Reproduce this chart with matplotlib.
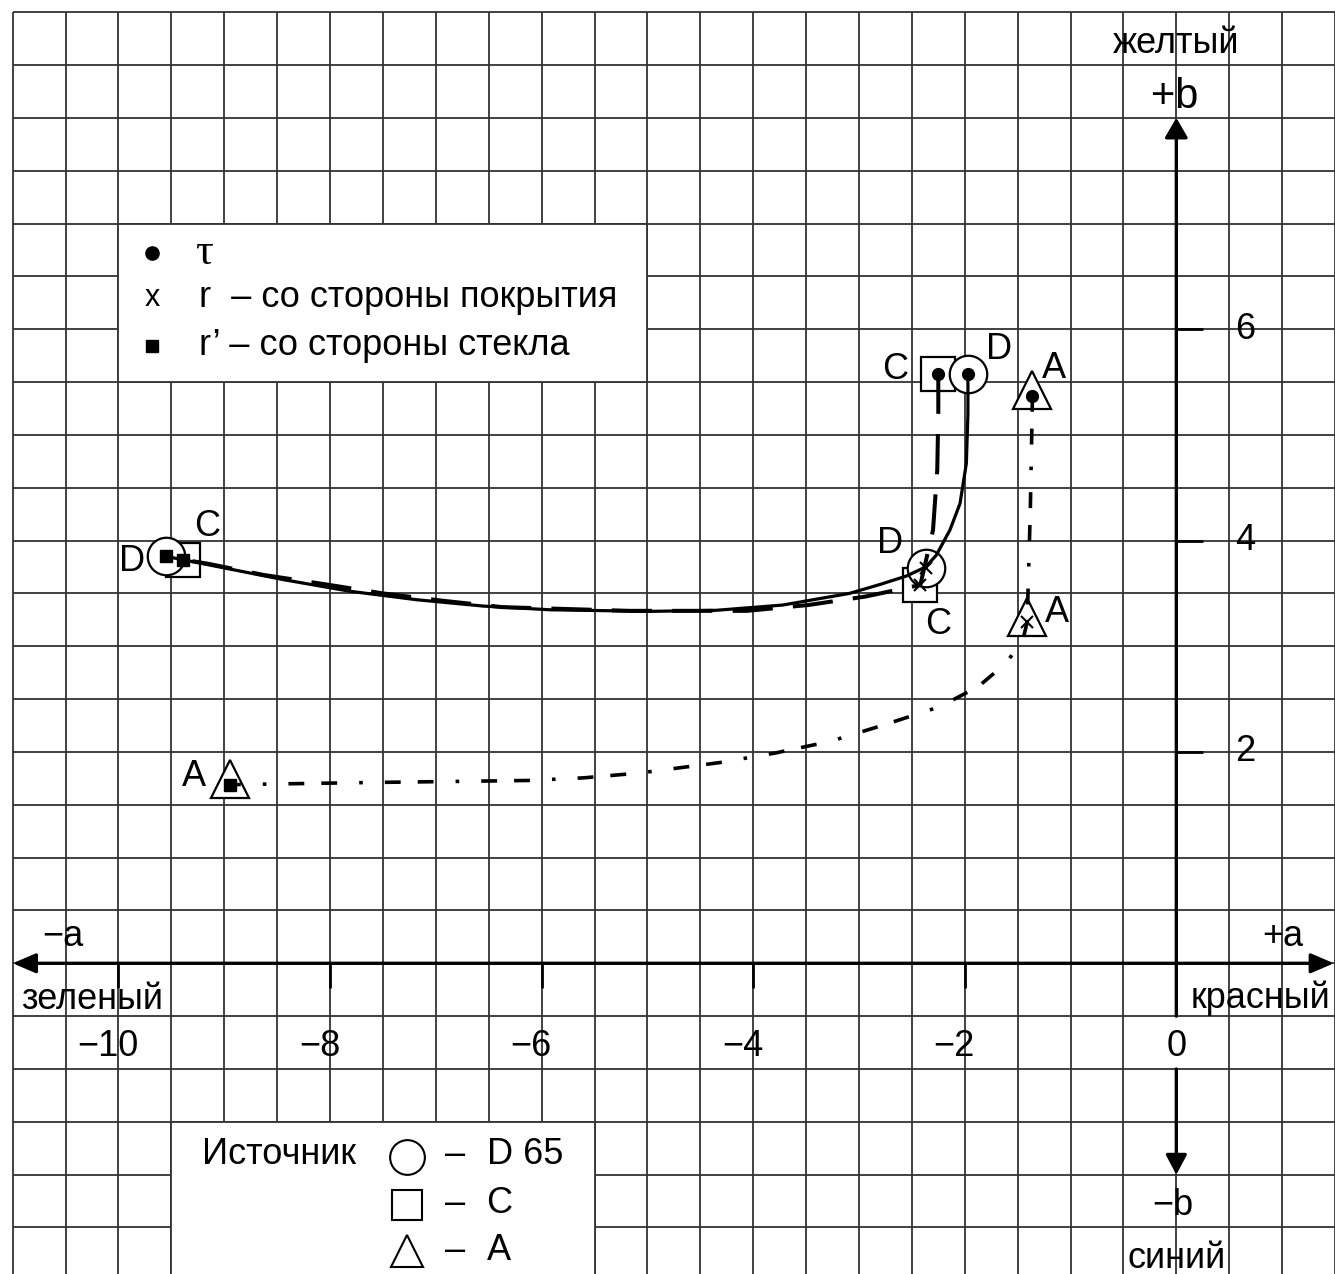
import numpy as np
import matplotlib
matplotlib.use("Agg")
from matplotlib import pyplot as plt
from matplotlib.patches import Rectangle

plt.rcParams['font.family'] = ['Liberation Sans', 'DejaVu Sans']

# points: D65, C, A sources
src = ['D', 'C', 'A']
tau_a = [-1.97, -2.25, -1.36]
tau_b = [5.58, 5.58, 5.37]
r_a = [-2.37, -2.42, -1.41]
r_b = [3.74, 3.58, 3.23]
rp_a = [-9.55, -9.39, -8.95]
rp_b = [3.85, 3.82, 1.69]

# letter labels next to the points (centre of the letter)
lab_tau_a = [-1.68, -2.66, -1.16]
lab_tau_b = [5.84, 5.65, 5.66]
lab_r_a = [-2.71, -2.25, -1.13]
lab_r_b = [4.00, 3.24, 3.35]
lab_rp_a = [-9.87, -9.16, -9.29]
lab_rp_b = [3.83, 4.16, 1.80]

# curves
d_curve_a = [-1.97, -1.97, -1.985, -2.045, -2.14, -2.27, -2.37, -2.55, -2.80, -3.09, -3.72,
             -4.35, -4.98, -5.92, -6.55, -7.18, -7.81, -8.44, -9.07, -9.55]
d_curve_b = [5.58, 5.20, 4.73, 4.35, 4.10, 3.86, 3.75, 3.665, 3.585, 3.50, 3.39,
             3.34, 3.33, 3.345, 3.38, 3.44, 3.52, 3.63, 3.755, 3.85]
c_curve_a = [-2.25, -2.25, -2.26, -2.30, -2.42, -2.94, -3.48, -4.06, -5.17, -6.37,
             -6.93, -7.50, -8.07, -8.63, -9.15, -9.39]
c_curve_b = [5.58, 5.20, 4.67, 4.10, 3.58, 3.47, 3.39, 3.335, 3.335, 3.37,
             3.43, 3.50, 3.59, 3.675, 3.78, 3.82]
a_curve_a = [-1.36, -1.38, -1.41, -1.45, -1.61, -1.87, -2.23, -2.75, -3.27, -3.79,
             -4.31, -5.08, -5.60, -6.12, -7.67, -8.95]
a_curve_b = [5.37, 4.30, 3.23, 3.06, 2.84, 2.62, 2.43, 2.26, 2.10, 1.99,
             1.90, 1.80, 1.755, 1.73, 1.71, 1.69]

x_ticks = [-10, -8, -6, -4, -2, 0]
x_labels = ['\u221210', '\u22128', '\u22126', '\u22124', '\u22122', '0']
y_ticks = [2, 4, 6]
y_labels = ['2', '4', '6']

GRID = '#333333'
FS = 26

fig = plt.figure(figsize=(13.35, 12.74), dpi=100)
ax = fig.add_axes([0, 0, 1, 1])
ax.set_xlim(-11.12, 1.50)
ax.set_ylim(-2.94, 9.115)
ax.axis('off')

# grid paper
gx = np.arange(-11, 1.51, 0.5)
gy = np.arange(-3, 9.01, 0.5)
ax.vlines(gx[gx != 0], -3.5, 9, color=GRID, lw=1.3, zorder=1)
ax.vlines([0, 0], [-3.5, -0.5], [-1.0, 9], color=GRID, lw=1.3, zorder=1)
ax.hlines(gy, -11, 2, color=GRID, lw=1.3, zorder=1)

# white legend boxes
ax.add_patch(Rectangle((-10, 5.5), 5.0, 1.5, fc='white', ec=GRID, lw=1.3, zorder=2))
ax.add_patch(Rectangle((-9.5, -3.5), 4.0, 2.0, fc='white', ec=GRID, lw=1.3, zorder=2))

# axes with arrows
ax.annotate('', xy=(-11.0, 0), xytext=(1.49, 0),
            arrowprops=dict(arrowstyle='<|-|>,head_length=0.7,head_width=0.3',
                            mutation_scale=20, lw=2.4, color='k',
                            shrinkA=0, shrinkB=0), zorder=4)
ax.annotate('', xy=(0, 8.0), xytext=(0, -0.5),
            arrowprops=dict(arrowstyle='-|>,head_length=0.6,head_width=0.35',
                            mutation_scale=20, lw=2.4, color='k',
                            shrinkA=0, shrinkB=0), zorder=4)
ax.annotate('', xy=(0, -2.0), xytext=(0, -1.0),
            arrowprops=dict(arrowstyle='-|>,head_length=0.6,head_width=0.32',
                            mutation_scale=20, lw=2.4, color='k',
                            shrinkA=0, shrinkB=0), zorder=4)
ax.vlines(x_ticks[:-1], -0.23, 0, color='k', lw=2.0, zorder=4)
ax.hlines(y_ticks, 0, 0.25, color='k', lw=2.0, zorder=4)

for t, l in zip(x_ticks, x_labels):
    off = -0.1 if t < 0 else 0
    ax.text(t + off, -0.875, l, fontsize=FS, ha='center', va='baseline', zorder=5)
for t, l in zip(y_ticks, y_labels):
    ax.text(0.65, t, l, fontsize=FS, ha='center', va='center', zorder=5)

ax.text(0, 8.614, 'желтый', fontsize=FS, ha='center', va='baseline', zorder=5)
ax.text(-0.02, 8.09, '+b', fontsize=30, ha='center', va='baseline', zorder=5)
ax.text(-10.53, 0.16, '\u2212a', fontsize=FS, ha='center', va='baseline', zorder=5)
ax.text(1.01, 0.16, '+a', fontsize=FS, ha='center', va='baseline', zorder=5)
ax.text(-10.25, -0.43, 'зеленый', fontsize=FS, ha='center', va='baseline', zorder=5)
ax.text(0.80, -0.42, 'красный', fontsize=FS, ha='center', va='baseline', zorder=5)
ax.text(-0.03, -2.38, '\u2212b', fontsize=FS, ha='center', va='baseline', zorder=5)
ax.text(0.0, -2.88, 'синий', fontsize=FS, ha='center', va='baseline', zorder=5)

# source markers (hollow, white filled)
ax.plot([tau_a[1], r_a[1], rp_a[1]], [tau_b[1], r_b[1], rp_b[1]], 's', ms=24,
        mfc='white', mec='k', mew=1.6, ls='none', zorder=6)
ax.plot([tau_a[0], r_a[0], rp_a[0]], [tau_b[0], r_b[0], rp_b[0]], 'o', ms=27,
        mfc='white', mec='k', mew=1.6, ls='none', zorder=7)
tri_lift = 0.05
ax.plot([tau_a[2], r_a[2], rp_a[2]],
        [tau_b[2] + tri_lift, r_b[2] + tri_lift, rp_b[2] + tri_lift], '^', ms=27,
        mfc='white', mec='k', mew=1.6, ls='none', zorder=7)

# curves
ax.plot(d_curve_a, d_curve_b, color='k', lw=2.3, solid_capstyle='round',
        solid_joinstyle='round', zorder=8)
ax.plot(c_curve_a, c_curve_b, color='k', lw=2.9, ls=(0, (10, 5)), zorder=8)
ax.plot(a_curve_a, a_curve_b, color='k', lw=2.6,
        ls=(0, (4.4, 4.7, 4.4, 6.1, 1.0, 6.1)), zorder=8)

# measurement markers
ax.plot(tau_a, tau_b, 'o', ms=8.5, color='k', ls='none', zorder=9)
ax.plot(r_a, r_b, 'x', ms=9, mew=1.5, color='k', ls='none', zorder=9)
ax.plot(rp_a, rp_b, 's', ms=8.5, color='k', ls='none', zorder=9)

for la, lb in ((lab_tau_a, lab_tau_b), (lab_r_a, lab_r_b), (lab_rp_a, lab_rp_b)):
    for name, x, y in zip(src, la, lb):
        ax.text(x, y - 0.12, name, fontsize=FS, ha='center', va='baseline', zorder=10)

# upper legend
ax.plot([-9.683], [6.72], 'o', ms=9.5, color='k', zorder=10)
ax.text(-9.277, 6.72, '\u03c4', fontsize=32, family=['Liberation Serif', 'DejaVu Serif'],
        ha='left', va='center', zorder=10)
ax.text(-9.683, 6.296, 'x', fontsize=22, ha='center', va='center', zorder=10)
ax.text(-9.24, 6.296, 'r  \u2013 со стороны покрытия', fontsize=FS, ha='left',
        va='center', zorder=10)
ax.plot([-9.683], [5.84], 's', ms=9, color='k', zorder=10)
ax.text(-9.24, 5.85, 'r\u2019 \u2013 со стороны стекла', fontsize=FS, ha='left',
        va='center', zorder=10)

# lower legend
ax.text(-9.21, -1.813, 'Источник', fontsize=FS, ha='left', va='center', zorder=10)
ax.plot([-7.274], [-1.83], 'o', ms=25, mfc='white', mec='k', mew=1.5, zorder=10)
ax.plot([-7.274], [-2.285], 's', ms=22, mfc='white', mec='k', mew=1.5, zorder=10)
ax.plot([-7.274], [-2.72], '^', ms=23, mfc='white', mec='k', mew=1.5, zorder=10)
for y, name in zip([-1.813, -2.27, -2.72], ['D 65', 'C', 'A']):
    ax.text(-6.82, y, '\u2013', fontsize=FS, ha='center', va='center', zorder=10)
    ax.text(-6.52, y, name, fontsize=FS, ha='left', va='center', zorder=10)

fig.savefig('out.png', dpi=100)
